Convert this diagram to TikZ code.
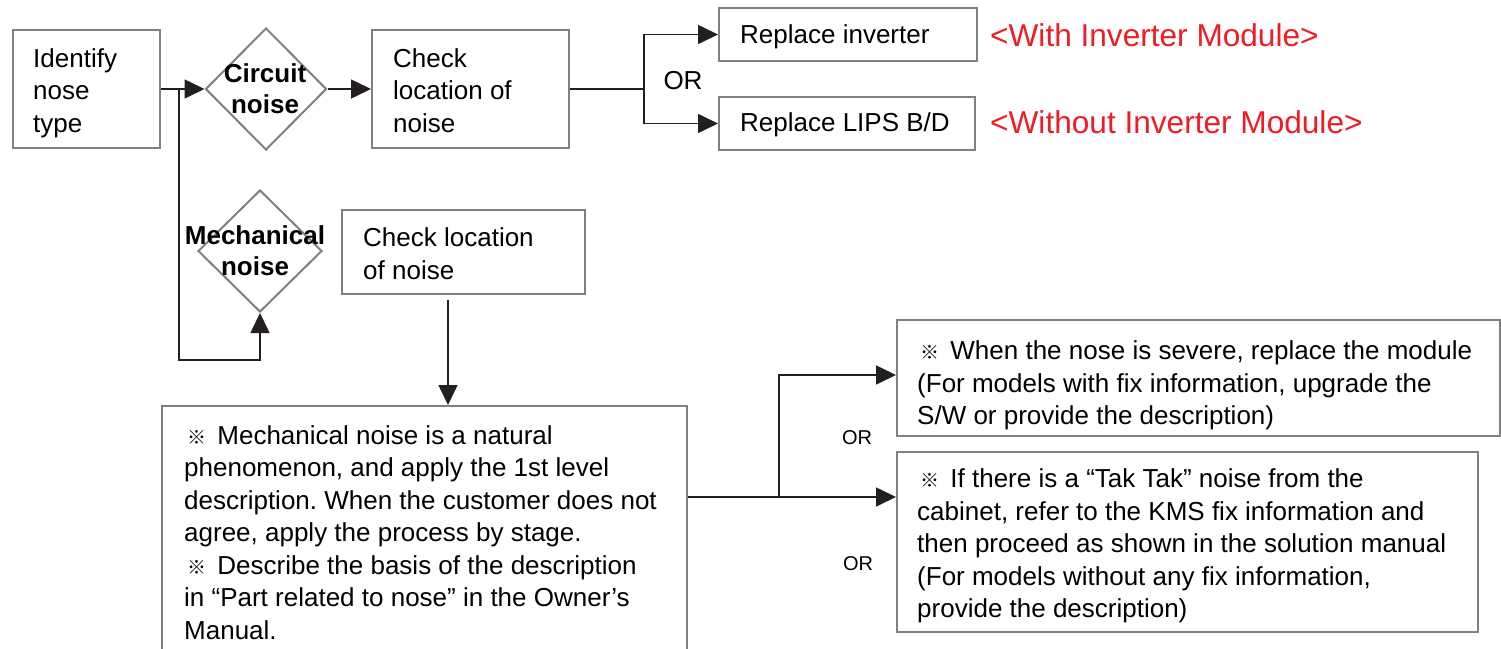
\documentclass[tikz,border=0pt]{standalone}
\usepackage{fontspec}
\setmainfont{Liberation Sans}
\newfontfamily\cjk{Noto Sans CJK SC}
\usetikzlibrary{arrows.meta,shapes.geometric}
\definecolor{boxgray}{HTML}{808080}
\definecolor{linec}{HTML}{231F20}
\definecolor{redtxt}{HTML}{EE1C25}
\newcommand{\rmk}{\makebox[26pt][c]{\fontsize{19}{19}\selectfont\cjk ※}}
\frenchspacing
\begin{document}
\begin{tikzpicture}[x=1pt,y=-1pt,
  box/.style={draw=boxgray, line width=2pt, inner sep=0pt},
  dia/.style={draw=boxgray, line width=2pt, diamond, inner sep=0pt},
  txt/.style={inner sep=0pt, align=left, anchor=north west, text=black, font=\fontsize{26}{32.5}\selectfont},
  btxt/.style={inner sep=0pt, align=center, anchor=north, font=\fontsize{26}{31.5}\selectfont\bfseries},
  redlbl/.style={inner sep=0pt, anchor=base west, text=redtxt, font=\fontsize{31.6}{36}\selectfont},
  smalltxt/.style={inner sep=0pt, anchor=base, font=\fontsize{20}{24}\selectfont},
  conn/.style={draw=linec, line width=1.6pt},
  arr/.style={conn, -{Triangle[length=20pt,width=19pt]}}]
\useasboundingbox (0,0) rectangle (1501,648);
\clip (0,0) rectangle (1501,648);

% top row
\node[box, minimum width=147pt, minimum height=118pt] (id) at (86.5,89) {};
\node[txt] (idt) at (33,44.25) {\strut Identify\\nose\\type};
\node[dia, minimum width=121pt, minimum height=122pt] (cd) at (266,89) {};
\node[btxt] (cdt) at (265,60) {\strut Circuit\\noise};
\node[box, minimum width=197pt, minimum height=118pt] (chk1) at (470.5,89) {};
\node[txt] (chk1t) at (393,44.25) {\strut Check\\location of\\noise};
\node[box, minimum width=258pt, minimum height=53pt] (rinv) at (848,34.5) {};
\node[txt, anchor=base west] (rinvt) at (740,43) {Replace inverter};
\node[box, minimum width=256pt, minimum height=53pt] (rlips) at (847,123.5) {};
\node[txt, anchor=base west] (rlipst) at (740,131) {Replace LIPS B/D};
\node[redlbl] (red1) at (990,46) {<With Inverter Module>};
\node[redlbl] (red2) at (990,133) {<Without Inverter Module>};
\node[txt, anchor=base] (or1) at (683,89) {OR};

% mechanical branch
\node[dia, minimum width=124pt, minimum height=122pt] (md) at (260,251) {};
\node[btxt] (mdt) at (255,222) {\strut Mechanical\\noise};
\node[box, minimum width=243pt, minimum height=84pt] (chk2) at (463.5,252) {};
\node[txt] (chk2t) at (363,224) {\strut Check location\\of noise};
\node[box, minimum width=525pt, minimum height=264pt] (big) at (424.5,538) {};
\node[txt] (bigt) at (184,421.25) {\strut\rmk{} Mechanical noise is a natural\\phenomenon, and apply the 1st level\\description. When the customer does not\\agree, apply the process by stage.\\\rmk{} Describe the basis of the description\\in “Part related to nose” in the Owner’s\\Manual.};
\node[box, minimum width=603pt, minimum height=116pt] (r1) at (1198.5,378) {};
\node[txt] (r1t) at (917,337) {\strut\rmk{} When the nose is severe, replace the module\\(For models with fix information, upgrade the\\S/W or provide the description)};
\node[box, minimum width=581pt, minimum height=180pt] (r2) at (1187.5,542) {};
\node[txt] (r2t) at (917,465) {\strut\rmk{} If there is a “Tak Tak” noise from the\\cabinet, refer to the KMS fix information and\\then proceed as shown in the solution manual\\(For models without any fix information,\\provide the description)};
\node[smalltxt] (or2) at (857,444) {OR};
\node[smalltxt] (or3) at (858,570) {OR};

% connectors
\coordinate (j1) at (179,89);
\coordinate (j2) at (179,360);
\draw[arr] (id.east) -- (cd.west);
\draw[arr] (j1) -- (j2) -| (md.south);
\draw[arr] (cd.east) -- (chk1.west);
\coordinate (jb) at (644,89);
\draw[conn] (chk1.east) -- (jb);
\draw[arr] (jb) |- (rinv.west);
\draw[arr] (jb) |- (rlips.west);
\coordinate (c2s) at ([shift={(-15.5,5)}]chk2.south);
\draw[arr] (c2s) -- (c2s |- big.north);
\coordinate (bo) at ([yshift=41pt]big.east);
\coordinate (jr) at (779,497);
\draw[arr] (bo) -- (bo -| r2.west);
\draw[arr] (jr) |- ([yshift=3pt]r1.west);
\end{tikzpicture}
\end{document}
